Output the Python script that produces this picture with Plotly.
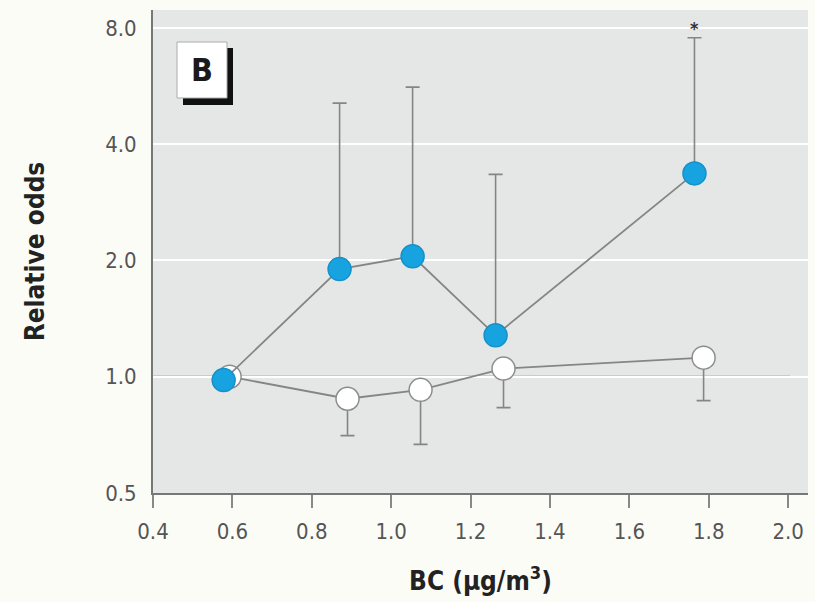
import math
import plotly.graph_objects as go

# ---- data ----
x_ticks = [0.4, 0.6, 0.8, 1.0, 1.2, 1.4, 1.6, 1.8, 2.0]
x_tick_labels = ["0.4", "0.6", "0.8", "1.0", "1.2", "1.4", "1.6", "1.8", "2.0"]
y_ticks = [0.5, 1.0, 2.0, 4.0, 8.0]
y_tick_labels = ["0.5", "1.0", "2.0", "4.0", "8.0"]

filled_bc = [0.578, 0.870, 1.054, 1.263, 1.764]
filled_or = [0.98, 1.90, 2.05, 1.28, 3.36]
filled_upper = [0.98, 5.11, 5.62, 3.34, 7.54]

open_bc = [0.593, 0.890, 1.074, 1.283, 1.787]
open_or = [1.00, 0.877, 0.925, 1.05, 1.12]
open_lower = [1.00, 0.704, 0.668, 0.832, 0.867]

reference_or = 1.0

FONT = "DejaVu Sans Condensed, DejaVu Sans, sans-serif"
GRAY = "#858585"

W, H = 815, 602
L, R, T, B = 153, 7, 10, 109
pw, ph = W - L - R, H - T - B


def px(xp):
    return (xp - L) / pw


def py(yp):
    return (H - B - yp) / ph


fig = go.Figure()

# open circles (lower CI only)
fig.add_trace(go.Scatter(
    x=open_bc, y=open_or, mode="lines+markers",
    line=dict(color=GRAY, width=1.8),
    marker=dict(size=23, color="white", line=dict(color="#8c8c8c", width=1.5)),
    error_y=dict(type="data", symmetric=False,
                 array=[0] * len(open_or),
                 arrayminus=[o - l for o, l in zip(open_or, open_lower)],
                 color=GRAY, thickness=1.6, width=7),
    showlegend=False, hoverinfo="skip"))

# filled circles (upper CI only)
fig.add_trace(go.Scatter(
    x=filled_bc, y=filled_or, mode="lines+markers",
    line=dict(color=GRAY, width=1.8),
    marker=dict(size=23, color="#17a3e0", line=dict(color="#1590c8", width=1.5)),
    error_y=dict(type="data", symmetric=False,
                 array=[u - o for u, o in zip(filled_upper, filled_or)],
                 arrayminus=[0] * len(filled_or),
                 color=GRAY, thickness=1.6, width=7),
    showlegend=False, hoverinfo="skip"))

# reference line at 1.0
fig.add_shape(type="line", xref="x", yref="y", x0=0.4, x1=2.005,
              y0=reference_or, y1=reference_or,
              line=dict(color="#7c7c7c", width=2), layer="below")

# panel label box "B"
fig.add_shape(type="rect", xref="paper", yref="paper",
              x0=px(183), x1=px(233), y0=py(105), y1=py(48),
              fillcolor="#111111", line=dict(width=0))
fig.add_shape(type="rect", xref="paper", yref="paper",
              x0=px(177), x1=px(227), y0=py(98), y1=py(42),
              fillcolor="white", line=dict(color="#aaaaaa", width=1))
fig.add_annotation(xref="paper", yref="paper", x=px(202), y=py(70),
                   xanchor="center", yanchor="middle",
                   text="<b>B</b>", showarrow=False,
                   font=dict(family=FONT, size=32, color="#1a1a1a"))

# significance marker
fig.add_annotation(x=filled_bc[4], y=math.log10(filled_upper[4]), xref="x", yref="y",
                   xanchor="center", text="<b>*</b>", showarrow=False,
                   yanchor="bottom", yshift=-3,
                   font=dict(family=FONT, size=18, color="#333333"))

fig.update_layout(
    width=W, height=H,
    margin=dict(l=L, r=R, t=T, b=B),
    paper_bgcolor="#fcfcf7",
    plot_bgcolor="#e5e7e7",
    font=dict(family=FONT, color="#555555"),
    xaxis=dict(
        range=[0.4, 2.05], tickvals=x_ticks, ticktext=x_tick_labels,
        showgrid=False, zeroline=False,
        showline=True, linecolor="#777777", linewidth=2,
        ticks="outside", ticklen=13, tickwidth=1.5, tickcolor="#888888",
        tickfont=dict(family=FONT, size=22, color="#555555"),
        ticklabelstandoff=5,
        title=dict(text="<b>BC (μg/m<sup>3</sup>)</b>", standoff=28,
                   font=dict(family=FONT, size=26, color="#222222")),
    ),
    yaxis=dict(
        type="log", range=[math.log10(0.5), math.log10(8.9)],
        tickvals=y_ticks, ticktext=y_tick_labels,
        showgrid=True, gridcolor="white", gridwidth=1.5,
        zeroline=False,
        showline=True, linecolor="#777777", linewidth=2,
        ticks="", tickfont=dict(family=FONT, size=22, color="#555555"),
        ticklabelstandoff=10,
        title=dict(text="<b>Relative odds</b>", standoff=53,
                   font=dict(family=FONT, size=26, color="#222222")),
    ),
)

fig.write_html("out.html")
